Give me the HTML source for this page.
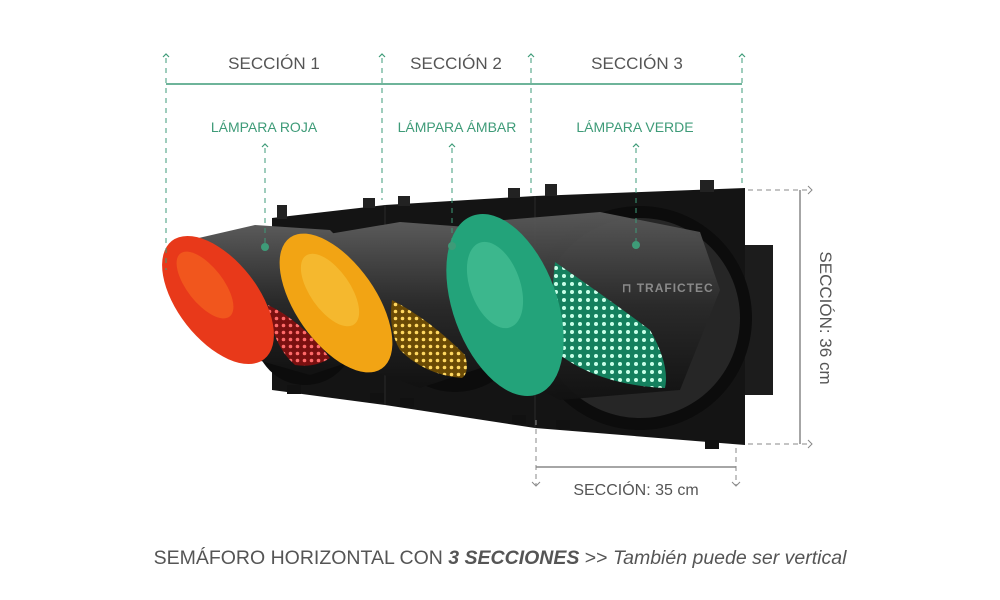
<!DOCTYPE html>
<html><head><meta charset="utf-8"><style>
html,body{margin:0;padding:0;background:#fff}
svg{display:block}
text{font-family:"Liberation Sans",sans-serif}
</style></head><body>
<svg width="1000" height="600" viewBox="0 0 1000 600" xmlns="http://www.w3.org/2000/svg">
<defs>
<pattern id="dr" width="7" height="7" patternUnits="userSpaceOnUse"><rect width="7" height="7" fill="#7a1010"/><circle cx="3.5" cy="3.5" r="1.8" fill="#ff6a6a"/></pattern>
<pattern id="da" width="7" height="7" patternUnits="userSpaceOnUse"><rect width="7" height="7" fill="#6a4a05"/><circle cx="3.5" cy="3.5" r="1.8" fill="#ffd860"/></pattern>
<pattern id="dg" width="8" height="8" patternUnits="userSpaceOnUse"><rect width="8" height="8" fill="#14805e"/><circle cx="4" cy="4" r="2" fill="#c8ffe8"/></pattern>
<linearGradient id="tube" x1="0" y1="0" x2="0" y2="1"><stop offset="0" stop-color="#5a5a5a"/><stop offset=".5" stop-color="#2a2a2a"/><stop offset="1" stop-color="#111"/></linearGradient>
</defs>

<!-- housing -->
<polygon points="272,218 385,205 535,196 745,188 745,445 535,428 385,405 272,390" fill="#141414"/>
<rect x="745" y="245" width="28" height="150" fill="#1c1c1c"/>
<line x1="385" y1="205" x2="385" y2="405" stroke="#2a2a2a"/>
<line x1="535" y1="196" x2="535" y2="428" stroke="#2a2a2a"/>
<g fill="#111"><rect x="287" y="385" width="14" height="9"/><rect x="370" y="393" width="14" height="9"/><rect x="400" y="398" width="14" height="9"/><rect x="512" y="415" width="14" height="9"/><rect x="556" y="420" width="14" height="9"/><rect x="705" y="440" width="14" height="9"/></g>
<g fill="#222"><rect x="277" y="205" width="10" height="14"/><rect x="363" y="198" width="12" height="10"/><rect x="398" y="196" width="12" height="10"/><rect x="508" y="188" width="12" height="10"/><rect x="545" y="184" width="12" height="12"/><rect x="700" y="180" width="14" height="12"/></g>

<!-- red lamp -->
<circle cx="305" cy="335" r="50" fill="#0c0c0c"/>
<polygon points="190,240 255,225 330,230 365,265 355,360 310,375 240,355" fill="url(#tube)"/>
<path d="M268,305 Q300,320 330,358 Q315,368 295,365 Q272,345 268,305Z" fill="url(#dr)"/>
<ellipse cx="218" cy="300" rx="40" ry="75" transform="rotate(-38 218 300)" fill="#e8391a"/>
<ellipse cx="205" cy="285" rx="18" ry="40" transform="rotate(-38 205 285)" fill="#f66a20" opacity=".6"/>

<!-- amber lamp -->
<circle cx="455" cy="320" r="72" fill="#0c0c0c"/>
<polygon points="305,238 400,222 480,228 515,262 505,360 420,388 370,370" fill="url(#tube)"/>
<path d="M392,300 Q430,320 465,355 Q470,372 462,378 Q425,375 400,350 Q388,330 392,300Z" fill="url(#da)"/>
<ellipse cx="336" cy="303" rx="40" ry="80" transform="rotate(-35 336 303)" fill="#f2a414"/>
<ellipse cx="330" cy="290" rx="20" ry="42" transform="rotate(-35 330 290)" fill="#f7c640" opacity=".6"/>

<!-- green lamp -->
<circle cx="640" cy="318" r="112" fill="#0c0c0c"/>
<circle cx="640" cy="318" r="100" fill="#262626"/>
<polygon points="480,222 600,212 700,232 720,290 680,390 560,400 500,370" fill="url(#tube)" opacity=".95"/>
<path d="M555,262 Q610,300 650,330 Q670,365 665,388 Q600,385 560,355 Q548,320 555,262Z" fill="url(#dg)"/>
<ellipse cx="505" cy="305" rx="52" ry="95" transform="rotate(-20 505 305)" fill="#23a37a"/>
<ellipse cx="495" cy="285" rx="25" ry="45" transform="rotate(-20 495 285)" fill="#4cc59a" opacity=".6"/>
<text x="622" y="292" font-size="12" fill="#8a8a8a" font-weight="bold" letter-spacing="1">⊓ TRAFICTEC</text>

<g fill="#3e9b78"><circle cx="265" cy="247" r="4"/><circle cx="452" cy="246" r="4"/><circle cx="636" cy="245" r="4"/></g>

<g stroke="#3e9b78" stroke-width="1" stroke-dasharray="5,5" fill="none">
<line x1="166" y1="58" x2="166" y2="270"/>
<line x1="382" y1="58" x2="382" y2="200"/>
<line x1="531" y1="58" x2="531" y2="195"/>
<line x1="742" y1="58" x2="742" y2="188"/>
<line x1="265" y1="148" x2="265" y2="243"/>
<line x1="452" y1="148" x2="452" y2="242"/>
<line x1="636" y1="148" x2="636" y2="241"/>
</g>
<g stroke="#3e9b78" stroke-width="1.2" fill="none">
<polyline points="163,57 166,54 169,57"/><polyline points="379,57 382,54 385,57"/><polyline points="528,57 531,54 534,57"/><polyline points="739,57 742,54 745,57"/>
<polyline points="262,147 265,144 268,147"/><polyline points="449,147 452,144 455,147"/><polyline points="633,147 636,144 639,147"/>
<line x1="166" y1="84" x2="742" y2="84" stroke-width="1.5"/>
</g>
<g font-size="17" fill="#555" text-anchor="middle">
<text x="274" y="69">SECCIÓN 1</text><text x="456" y="69">SECCIÓN 2</text><text x="637" y="69">SECCIÓN 3</text>
</g>
<g font-size="14" fill="#3e9b78" text-anchor="middle">
<text x="264" y="132">LÁMPARA ROJA</text><text x="457" y="132">LÁMPARA ÁMBAR</text><text x="635" y="132">LÁMPARA VERDE</text>
</g>

<g stroke="#888" stroke-width="1" fill="none">
<line x1="748" y1="190" x2="810" y2="190" stroke-dasharray="5,4"/>
<line x1="748" y1="444" x2="810" y2="444" stroke-dasharray="5,4"/>
<polyline points="808,186 812,190 808,194"/><polyline points="808,440 812,444 808,448"/>
<line x1="800" y1="190" x2="800" y2="444" stroke-width="1.5"/>
<line x1="536" y1="420" x2="536" y2="485" stroke-dasharray="5,4"/>
<line x1="736" y1="448" x2="736" y2="485" stroke-dasharray="5,4"/>
<polyline points="532,482 536,486 540,482"/><polyline points="732,482 736,486 740,482"/>
<line x1="536" y1="467" x2="736" y2="467" stroke-width="1.5"/>
</g>
<text transform="translate(820,318) rotate(90)" font-size="17" fill="#555" text-anchor="middle">SECCIÓN: 36 cm</text>
<text x="636" y="495" font-size="16" fill="#555" text-anchor="middle">SECCIÓN: 35 cm</text>

<text x="500" y="564" font-size="19.5" fill="#555" text-anchor="middle">SEMÁFORO HORIZONTAL CON <tspan font-weight="bold" font-style="italic">3 SECCIONES</tspan> &gt;&gt; <tspan font-style="italic">También puede ser vertical</tspan></text>
</svg>
</body></html>
